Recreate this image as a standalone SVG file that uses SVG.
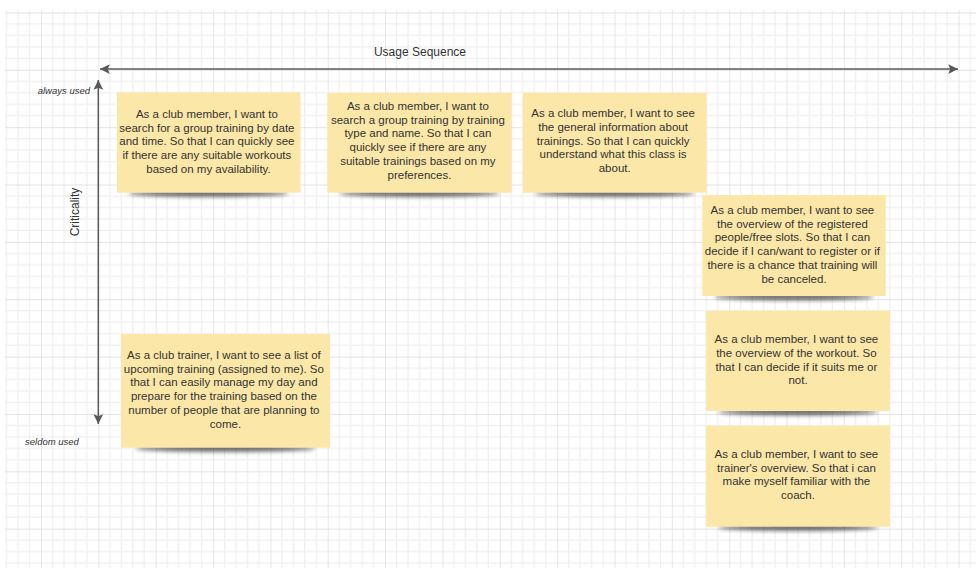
<svg xmlns="http://www.w3.org/2000/svg" width="976" height="568" viewBox="0 0 976 568">
  <defs>
    <pattern id="grid" patternUnits="userSpaceOnUse" x="41" y="12.5" width="57.35" height="57.35">
      <g stroke="#efefef" stroke-width="1.3" fill="none">
        <line x1="11.47" y1="0" x2="11.47" y2="57.35"/>
        <line x1="22.94" y1="0" x2="22.94" y2="57.35"/>
        <line x1="34.41" y1="0" x2="34.41" y2="57.35"/>
        <line x1="45.88" y1="0" x2="45.88" y2="57.35"/>
        <line x1="0" y1="11.47" x2="57.35" y2="11.47"/>
        <line x1="0" y1="22.94" x2="57.35" y2="22.94"/>
        <line x1="0" y1="34.41" x2="57.35" y2="34.41"/>
        <line x1="0" y1="45.88" x2="57.35" y2="45.88"/>
      </g>
      <g stroke="#dadada" stroke-width="1.3" fill="none">
        <line x1="0" y1="0" x2="0" y2="57.35"/>
        <line x1="0" y1="0" x2="57.35" y2="0"/>
      </g>
    </pattern>
    <marker id="head" viewBox="0 0 10 10" refX="10" refY="5" markerWidth="6.5" markerHeight="6.5" markerUnits="strokeWidth" orient="auto-start-reverse">
      <path d="M0,0 L10,5 L0,10 L2,5 Z" fill="#595959"/>
    </marker>
    <filter id="soft" x="-20%" y="-200%" width="140%" height="500%">
      <feGaussianBlur stdDeviation="2.2"/>
    </filter>
    <style>
      .note { fill: #fbe7a8; }
      .shadow { fill: #000; opacity: 0.6; filter: url(#soft); }
      .txt { font-family: "Liberation Sans", Arial, sans-serif; font-size: 11.5px; fill: #333; text-anchor: middle; }
      .axis { stroke: #595959; stroke-width: 1.5; fill: none; marker-start: url(#head); marker-end: url(#head); }
      .lbl { font-family: "Liberation Sans", Arial, sans-serif; fill: #333; }
      .small { font-size: 9.5px; font-style: italic; }
    </style>
  </defs>

  <!-- page background and grid -->
  <rect width="976" height="568" fill="#fff"/>
  <rect x="5" y="10" width="971" height="558" fill="url(#grid)"/>

  <!-- axes -->
  <g id="connectors">
    <line class="axis" x1="100" y1="69" x2="958" y2="69"/>
    <line class="axis" x1="98.3" y1="80" x2="98.3" y2="424"/>
  </g>

  <!-- axis labels -->
  <g id="labels">
    <text class="lbl" x="420" y="56" font-size="12" text-anchor="middle">Usage Sequence</text>
    <text class="lbl small" x="90" y="94" text-anchor="end">always used</text>
    <text class="lbl small" x="25" y="444.5">seldom used</text>
    <text class="lbl" font-size="12" text-anchor="middle" transform="translate(79,212) rotate(-90)">Criticality</text>
  </g>

  <!-- sticky notes -->
  <g id="note-search-date">
    <ellipse class="shadow" cx="208.5" cy="193.5" rx="80" ry="3.2"/>
    <rect class="note" x="117" y="92.3" width="183.5" height="100.4"/>
    <text class="txt">
      <tspan x="208.5" y="118">As a club member, I want to</tspan>
      <tspan x="208.5" y="131.7">search for a group training by date</tspan>
      <tspan x="208.5" y="145.4">and time. So that I can quickly see</tspan>
      <tspan x="208.5" y="159.1">if there are any suitable workouts</tspan>
      <tspan x="208.5" y="172.8">based on my availability.</tspan>
    </text>
  </g>

  <g id="note-search-type">
    <ellipse class="shadow" cx="419.5" cy="193.5" rx="80" ry="3.2"/>
    <rect class="note" x="327.3" y="92.7" width="184.4" height="100"/>
    <text class="txt">
      <tspan x="419.5" y="110">As a club member, I want to</tspan>
      <tspan x="419.5" y="123.7">search a group training by training</tspan>
      <tspan x="419.5" y="137.4">type and name. So that I can</tspan>
      <tspan x="419.5" y="151.1">quickly see if there are any</tspan>
      <tspan x="419.5" y="164.8">suitable trainings based on my</tspan>
      <tspan x="419.5" y="178.5">preferences.</tspan>
    </text>
  </g>

  <g id="note-general-info">
    <ellipse class="shadow" cx="614.7" cy="193.5" rx="80" ry="3.2"/>
    <rect class="note" x="522.7" y="92.7" width="184" height="100"/>
    <text class="txt">
      <tspan x="614.7" y="117.3">As a club member, I want to see</tspan>
      <tspan x="614.7" y="131">the general information about</tspan>
      <tspan x="614.7" y="144.7">trainings. So that I can quickly</tspan>
      <tspan x="614.7" y="158.4">understand what this class is</tspan>
      <tspan x="614.7" y="172.1">about.</tspan>
    </text>
  </g>

  <g id="note-registered">
    <ellipse class="shadow" cx="794" cy="297" rx="80" ry="3.2"/>
    <rect class="note" x="702.3" y="195" width="183.4" height="101"/>
    <text class="txt">
      <tspan x="794" y="214">As a club member, I want to see</tspan>
      <tspan x="794" y="227.7">the overview of the registered</tspan>
      <tspan x="794" y="241.4">people/free slots. So that I can</tspan>
      <tspan x="794" y="255.1">decide if I can/want to register or if</tspan>
      <tspan x="794" y="268.8">there is a chance that training will</tspan>
      <tspan x="794" y="282.5">be canceled.</tspan>
    </text>
  </g>

  <g id="note-trainer-list">
    <ellipse class="shadow" cx="225.5" cy="448.5" rx="90" ry="3.2"/>
    <rect class="note" x="121" y="334" width="209" height="113.7"/>
    <text class="txt">
      <tspan x="225.5" y="359">As a club trainer, I want to see a list of</tspan>
      <tspan x="225.5" y="372.7">upcoming training (assigned to me). So</tspan>
      <tspan x="225.5" y="386.4">that I can easily manage my day and</tspan>
      <tspan x="225.5" y="400.1">prepare for the training based on the</tspan>
      <tspan x="225.5" y="413.8">number of people that are planning to</tspan>
      <tspan x="225.5" y="427.5">come.</tspan>
    </text>
  </g>

  <g id="note-workout">
    <ellipse class="shadow" cx="798" cy="412" rx="80" ry="3.2"/>
    <rect class="note" x="706" y="310.7" width="184" height="100.3"/>
    <text class="txt">
      <tspan x="798" y="343.3">As a club member, I want to see</tspan>
      <tspan x="798" y="357">the overview of the workout. So</tspan>
      <tspan x="798" y="370.7">that I can decide if it suits me or</tspan>
      <tspan x="798" y="384.4">not.</tspan>
    </text>
  </g>

  <g id="note-trainer-overview">
    <ellipse class="shadow" cx="798" cy="527.5" rx="80" ry="3.2"/>
    <rect class="note" x="706" y="425.7" width="184" height="101"/>
    <text class="txt">
      <tspan x="798" y="458">As a club member, I want to see</tspan>
      <tspan x="798" y="471.7">trainer's overview. So that i can</tspan>
      <tspan x="798" y="485.4">make myself familiar with the</tspan>
      <tspan x="798" y="499.1">coach.</tspan>
    </text>
  </g>
</svg>
